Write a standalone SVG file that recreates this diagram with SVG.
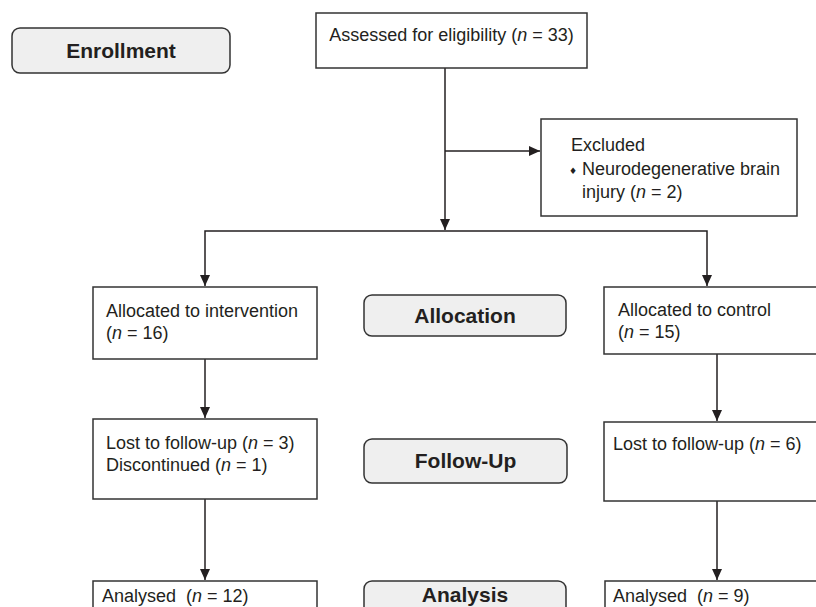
<svg xmlns="http://www.w3.org/2000/svg" width="816" height="607" viewBox="0 0 816 607">
<style>
  .box { fill: #ffffff; stroke: #333333; stroke-width: 1.5; }
  .pill { fill: #efefef; stroke: #333333; stroke-width: 1.5; }
  .t { font-family: "Liberation Sans", Arial, sans-serif; font-size: 18px; fill: #231f20; }
  .b { font-family: "Liberation Sans", Arial, sans-serif; font-size: 21px; font-weight: bold; fill: #231f20; text-anchor: middle; }
  .i { font-style: italic; }
  .c { fill: none; stroke: #231f20; stroke-width: 1.5; }
</style>
<defs>
  <marker id="ah" markerUnits="userSpaceOnUse" markerWidth="12" markerHeight="10" refX="11" refY="5" orient="auto">
    <path d="M0,0 L11,5 L0,10 Z" fill="#231f20"/>
  </marker>
</defs>
<rect width="816" height="607" fill="#ffffff"/>

<g id="connectors">
  <path class="c" d="M445,68 V230" marker-end="url(#ah)"/>
  <path class="c" d="M445,151 H540" marker-end="url(#ah)"/>
  <path class="c" d="M445,231 H205 V286" marker-end="url(#ah)"/>
  <path class="c" d="M445,231 H707 V286" marker-end="url(#ah)"/>
  <path class="c" d="M205,359 V418" marker-end="url(#ah)"/>
  <path class="c" d="M717,354 V421" marker-end="url(#ah)"/>
  <path class="c" d="M205,499 V580" marker-end="url(#ah)"/>
  <path class="c" d="M717,501 V580" marker-end="url(#ah)"/>
</g>

<g id="enrollment">
  <rect class="pill" x="12" y="28" width="218" height="45" rx="8"/>
  <text class="b" x="121" y="58">Enrollment</text>
</g>

<g id="assessed">
  <rect class="box" x="316" y="13" width="271" height="55"/>
  <text class="t" x="451.5" y="41" text-anchor="middle">Assessed for eligibility (<tspan class="i">n</tspan> = 33)</text>
</g>

<g id="excluded">
  <rect class="box" x="541" y="119" width="256" height="97"/>
  <text class="t" x="571" y="151">Excluded</text>
  <text x="569" y="174" font-family="DejaVu Sans, sans-serif" font-size="9" fill="#231f20">♦</text>
  <text class="t" x="582" y="175">Neurodegenerative brain</text>
  <text class="t" x="582" y="198">injury (<tspan class="i">n</tspan> = 2)</text>
</g>

<g id="alloc-intervention">
  <rect class="box" x="93" y="287" width="224" height="72"/>
  <text class="t" x="106" y="317">Allocated to intervention</text>
  <text class="t" x="106" y="339">(<tspan class="i">n</tspan> = 16)</text>
</g>

<g id="allocation">
  <rect class="pill" x="364" y="295" width="202" height="41" rx="8"/>
  <text class="b" x="465" y="323">Allocation</text>
</g>

<g id="alloc-control">
  <rect class="box" x="604" y="287" width="230" height="67"/>
  <text class="t" x="618" y="316">Allocated to control</text>
  <text class="t" x="618" y="338">(<tspan class="i">n</tspan> = 15)</text>
</g>

<g id="followup-intervention">
  <rect class="box" x="93" y="419" width="224" height="80"/>
  <text class="t" x="106" y="449">Lost to follow-up (<tspan class="i">n</tspan> = 3)</text>
  <text class="t" x="106" y="471">Discontinued (<tspan class="i">n</tspan> = 1)</text>
</g>

<g id="followup">
  <rect class="pill" x="364" y="439" width="203" height="44" rx="8"/>
  <text class="b" x="465.5" y="468">Follow-Up</text>
</g>

<g id="followup-control">
  <rect class="box" x="604" y="422" width="230" height="79"/>
  <text class="t" x="613" y="450">Lost to follow-up (<tspan class="i">n</tspan> = 6)</text>
</g>

<g id="analysed-intervention">
  <rect class="box" x="93" y="581" width="224" height="60"/>
  <text class="t" x="102" y="602" xml:space="preserve">Analysed  (<tspan class="i">n</tspan> = 12)</text>
</g>

<g id="analysis">
  <rect class="pill" x="364" y="581" width="202" height="44" rx="8"/>
  <text class="b" x="465" y="602">Analysis</text>
</g>

<g id="analysed-control">
  <rect class="box" x="605" y="581" width="230" height="60"/>
  <text class="t" x="613" y="602" xml:space="preserve">Analysed  (<tspan class="i">n</tspan> = 9)</text>
</g>
</svg>
